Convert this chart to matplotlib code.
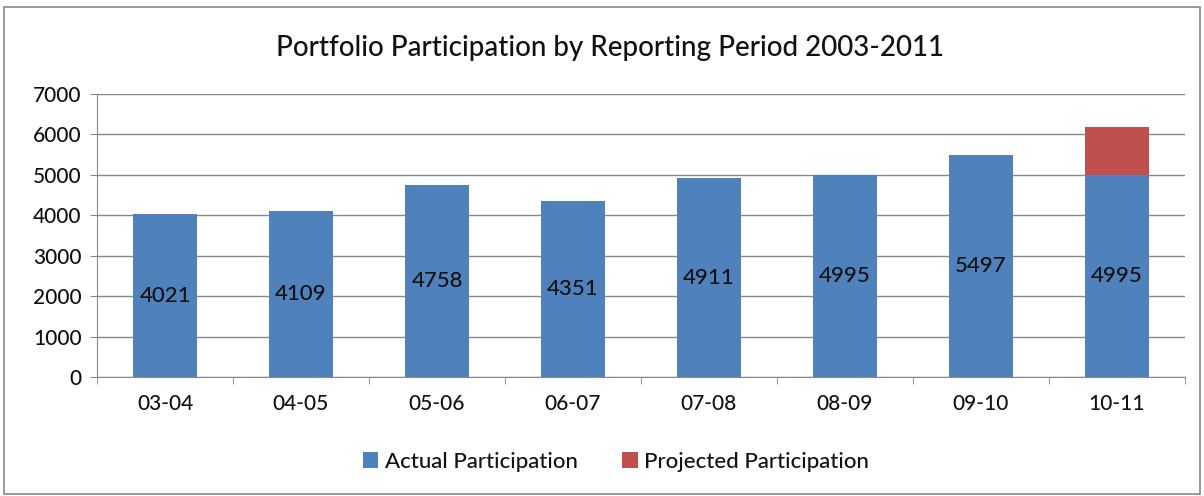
import matplotlib
matplotlib.use("Agg")
import matplotlib.pyplot as plt
from matplotlib.patches import Rectangle

categories = ["03-04", "04-05", "05-06", "06-07", "07-08", "08-09", "09-10", "10-11"]
actual = [4021, 4109, 4758, 4351, 4911, 4995, 5497, 4995]
projected = [0, 0, 0, 0, 0, 0, 0, 1180]
yticks = [0, 1000, 2000, 3000, 4000, 5000, 6000, 7000]

plt.rcParams['font.family'] = ['Lato', 'DejaVu Sans']
plt.rcParams['text.color'] = '#111111'

fig = plt.figure(figsize=(12.04, 4.96), dpi=100)
fig.patches.append(Rectangle((4/1204, 2/496), 1196/1204, 487/496, transform=fig.transFigure,
                             fill=False, edgecolor="#888888", linewidth=1.2))
ax = fig.add_axes([97/1204, 1 - 377/496, (1185-97)/1204, (377-94)/496])

x = list(range(len(categories)))
blue = "#4F81BD"
red = "#C0504D"
ax.bar(x, actual, width=0.47, color=blue, label="Actual Participation", zorder=3)
ax.bar(x, projected, width=0.47, bottom=actual, color=red, label="Projected Participation", zorder=3)

for xi, v in zip(x, actual):
    ax.text(xi, v / 2, str(v), ha="center", va="center", fontsize=16, color="#111111",
            fontweight="medium", zorder=4)

ax.set_xlim(-0.5, len(categories) - 0.5)
ax.set_ylim(0, 7000)
ax.set_yticks(yticks)
ax.set_yticklabels([str(t) for t in yticks], fontsize=15, color="#111111", fontweight="medium")
ax.set_xticks(x)
ax.set_xticklabels(categories, fontsize=15, color="#111111", fontweight="medium")
ax.set_xticks([i - 0.5 for i in range(len(categories) + 1)], minor=True)
ax.tick_params(axis="x", which="major", length=0, pad=12)
ax.tick_params(axis="x", which="minor", length=5, color="#888888", direction="out")
ax.tick_params(axis="y", length=5, color="#888888", direction="out", pad=6)
ax.yaxis.grid(True, color="#888888", linewidth=1, zorder=0)
for s in ["top", "right"]:
    ax.spines[s].set_visible(False)
for s in ["left", "bottom"]:
    ax.spines[s].set_color("#888888")

fig.text(610/1204, 1 - 48/496, "Portfolio Participation by Reporting Period 2003-2011",
         ha="center", va="center", fontsize=20, fontweight="medium")

handles, labels = ax.get_legend_handles_labels()
fig.legend(handles, labels, loc="center", bbox_to_anchor=(616/1204, 1 - 462/496), ncol=2,
           frameon=False, prop={"size": 16, "weight": "medium"}, handlelength=0.7,
           handleheight=0.7, handletextpad=0.3, columnspacing=2.0)

fig.savefig("out.png", dpi=100)
